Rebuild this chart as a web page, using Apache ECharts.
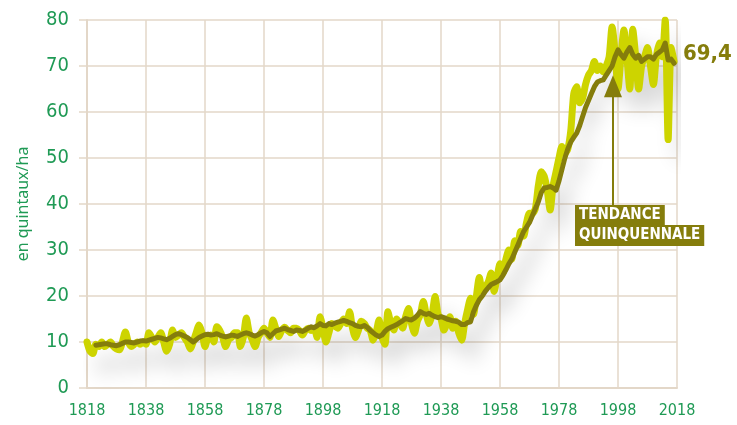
<!DOCTYPE html>
<html>
<head>
<meta charset="utf-8">
<script src="https://cdn.jsdelivr.net/npm/echarts@6/dist/echarts.min.js"></script>
<style>
html,body{margin:0;padding:0;background:#fff;}
#c{width:737px;height:425px;}
</style>
</head>
<body>
<div id="c"></div>
<script>
// ---- DATA ----
var annualStart = 1818;
var annualValues = [
 10,8,7.5,9.5,9,10,9,9.5,10,9, 8.5,8.3,10,12.2,10,9,9.5,10,9.5,10,
 9.5,12,11,10,11,12,10,8,9.5,12.6, 11,11.5,12,11,10,8.5,10,12,13.7,12,
 9,11,11.5,10,13.3,12.5,11,9,10.5,11, 12,12,9,11,15.2,12,10.5,9,11,12,
 13,12,11,14.8,13,11.2,12.5,13.2,12.5,12, 13,13,12.5,11.5,12.5,13,12.5,13,11,15.5,
 13,10,12,14,13.5,13,14,15,14,16.6, 13,11,12.5,14.5,14,13,12.5,10.4,12,14.8,
 11,9.5,16.6,14,12.6,15,14,13,15.5,17.3, 14,11.9,14.5,16,18.8,16,14,16,19.9,16,
 15,12.6,14,15.5,13,14.5,12,10.4,14,17, 19.5,16,20,24,21,22,23,25,21,24,
 27,25,28,30,28,32,31,34,33,36, 38,38,39,44,47,46,43,38.7,44,47,
 50,52.5,51,52,56,64,65.5,62,63,66, 68,69,71,69,70,68.7,70,72,78.5,73,
 65,72,77.8,72,65,78,72,65,70,72, 74,70,66,72,75,72,80,54,74,71
];
var trendStart = 1821;
var trendValues = [
 9.3,9.4,9.5,9.6,9.6,9.4,9.3,9.2,9.4,9.7, 10,10,9.9,9.8,10,10.2,10.3,10.2,10.4,10.6,
 10.8,11,10.9,10.7,10.5,10.8,11.2,11.6,11.8,11.6, 11.3,11,10.5,10,10.5,11,11.3,11.6,11.7,11.5,
 11.6,11.8,11.5,11.3,11.1,11.3,11.5,11.4,11.2,11.5, 11.8,12,11.8,11.5,11.3,11.6,12,12.3,12,11.2,
 11.8,12.4,12.6,12.8,13,12.7,12.5,12.3,12.6,12.5, 12.3,12.6,13,13.3,13.1,13.5,14,13.6,13.5,14,
 13.8,14.1,14.3,14.5,14.7,14.5,14.2,14,13.6,13.4, 13.3,13.6,13.2,12.5,12,11.5,11.2,11.5,12.3,12.9,
 13.2,13.5,13.8,14.2,14.6,15.1,14.9,14.8,15.2,15.8, 16.6,16.2,16,16.2,15.8,15.5,15.3,15.5,15.3,15,
 14.8,14.6,14.5,14.3,13.8,13.8,14.2,14.4,16.5,18, 19.2,20,21,21.8,22.5,22.8,23.1,23.5,24.5,25.7,
 27,28,29.5,31,32.5,34,35,36,37.5,39, 40.5,42.5,43.5,43.6,43.8,43.5,43,45,47.5,50,
 52,53.5,54.5,55.4,57,59,61,62.5,64,65.5, 66.5,66.8,67,68,69,70,72,73.5,72.5,71.7,
 73,74,72.5,71.7,72.3,71,71.5,72,72,71.5, 72.5,73,73.5,75,71.3,71.5,70.6
];
var xTicks = {min: 1818, max: 2018, step: 20};
var yTicks = {min: 0, max: 80, step: 10};
var lastLabel = '69,4';
var annotationLines = ['TENDANCE', 'QUINQUENNALE'];
var arrowYear = 1996.3;
var arrowFrom = 39.8, arrowTo = 65.6;
var yAxisTitle = 'en quintaux/ha';

// ---- BUILD ----
function pairs(start, vals){ return vals.map(function(v,i){ return [start+i, v]; }); }

var grey = '#e3d7c8';
var green = '#1f9a55';
var olive = '#857d0c';
var lime = '#cdd400';
var fontNarrow = "'Liberation Sans Narrow','DejaVu Sans Condensed','Roboto',sans-serif";

var chart = echarts.init(document.getElementById('c'), null, {renderer:'canvas'});
chart.setOption({
  animation: false,
  backgroundColor: '#ffffff',
  grid: {left: 87, right: 60, top: 20, bottom: 37, containLabel: false},
  xAxis: {
    type: 'value', min: xTicks.min, max: xTicks.max, interval: xTicks.step,
    axisLine: {show: true, lineStyle: {color: grey, width: 2}},
    axisTick: {show: false},
    splitLine: {show: true, lineStyle: {color: grey, width: 1.5}},
    axisLabel: {color: green, fontSize: 16, fontFamily: fontNarrow, margin: 15,
      formatter: function(v){ return String(v); }}
  },
  yAxis: {
    type: 'value', min: yTicks.min, max: yTicks.max, interval: yTicks.step,
    name: yAxisTitle, nameLocation: 'middle', nameGap: 56, nameRotate: 90,
    nameTextStyle: {color: green, fontSize: 16, fontFamily: "'Noto Sans','DejaVu Sans',sans-serif"},
    axisLine: {show: true, lineStyle: {color: grey, width: 2}},
    axisTick: {show: true, length: 8, lineStyle: {color: grey, width: 1.5}},
    splitLine: {show: true, lineStyle: {color: grey, width: 1.5}},
    axisLabel: {color: green, fontSize: 20, fontFamily: fontNarrow, margin: 18}
  },
  series: [
    {
      type: 'line', data: pairs(annualStart, annualValues), showSymbol: false, smooth: 0.25,
      lineStyle: {color: lime, width: 7, cap: 'round', join: 'round',
        shadowColor: 'rgba(0,0,0,0.16)', shadowBlur: 20, shadowOffsetX: 12, shadowOffsetY: 18},
      z: 2
    },
    {
      type: 'line', data: pairs(trendStart, trendValues), showSymbol: false, smooth: false,
      lineStyle: {color: olive, width: 5, cap: 'round', join: 'round'},
      z: 3,
      markLine: {
        silent: true, symbol: ['none', 'triangle'], symbolSize: [18, 22],
        label: {show: false},
        lineStyle: {color: olive, width: 2, type: 'solid'},
        data: [[{coord: [arrowYear, arrowFrom]}, {coord: [arrowYear, arrowTo]}]]
      }
    }
  ],
  graphic: [
    {type: 'text', left: 683, top: 43, z: 10,
      style: {text: lastLabel, fill: olive, font: "bold 22px 'Liberation Sans Narrow','DejaVu Sans Condensed',sans-serif"}},
    {type: 'text', left: 575, top: 205, z: 10,
      style: {text: annotationLines[0], fill: '#ffffff', backgroundColor: olive, padding: [3, 4, 2, 4],
        font: "bold 15px 'Liberation Sans Narrow','DejaVu Sans Condensed',sans-serif"}},
    {type: 'text', left: 575, top: 225, z: 10,
      style: {text: annotationLines[1], fill: '#ffffff', backgroundColor: olive, padding: [3, 4, 3, 4],
        font: "bold 15px 'Liberation Sans Narrow','DejaVu Sans Condensed',sans-serif"}}
  ]
});
</script>
</body>
</html>
